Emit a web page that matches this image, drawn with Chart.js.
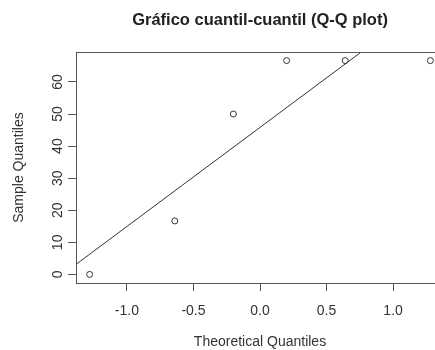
<!DOCTYPE html>
<html>
<head>
<meta charset="utf-8">
<script src="https://cdn.jsdelivr.net/npm/chart.js@4"></script>
<style>
  html, body { margin: 0; padding: 0; background: #fff; overflow: hidden; }
  #wrap { width: 480px; height: 350px; }
</style>
</head>
<body>
<div id="wrap"><canvas id="qqChart" width="480" height="350"></canvas></div>
<script>
// Normal Q-Q data: theoretical quantiles vs sorted sample values
const theoretical = [-1.28, -0.64, -0.20, 0.20, 0.64, 1.28];
const sample = [0, 16.67, 50, 66.67, 66.67, 66.67];
const xTicks = [-1.0, -0.5, 0.0, 0.5, 1.0];
const yTicks = [0, 10, 20, 30, 40, 50, 60];

const titleText = "Gráfico cuantil-cuantil (Q-Q plot)";
const xTitle = "Theoretical Quantiles";
const yTitle = "Sample Quantiles";

// axis limits: data range padded by 4% on each side
function padRange(v) {
  const lo = Math.min(...v), hi = Math.max(...v), d = (hi - lo) * 0.04;
  return [lo - d, hi + d];
}
const [xMin, xMax] = padRange(theoretical);
const [yMin, yMax] = padRange(sample);

// reference line through the first and third quartiles
function quantile(v, p) {
  const s = [...v].sort((a, b) => a - b);
  const h = (s.length - 1) * p, i = Math.floor(h);
  return s[i] + (h - i) * ((s[i + 1] ?? s[i]) - s[i]);
}
const zq = 0.6745; // standard normal 75% point
const q1 = quantile(sample, 0.25), q3 = quantile(sample, 0.75);
const slope = (q3 - q1) / (2 * zq);
const intercept = q1 + slope * zq;
const qqLine = [xMin, xMax].map(x => ({ x, y: intercept + slope * x }));

const font = '"Liberation Sans", Arial, sans-serif';

// frame, tick labels and titles
const frameAndText = {
  id: "frameAndText",
  afterDraw(chart) {
    const { ctx, chartArea: a, scales: { x, y } } = chart;
    ctx.save();
    ctx.strokeStyle = "#555";
    ctx.lineWidth = 1;
    ctx.strokeRect(Math.round(a.left) + 0.5, Math.round(a.top) + 0.5,
      Math.round(a.right - a.left), Math.round(a.bottom - a.top));

    ctx.fillStyle = "#222";
    ctx.textAlign = "center";
    ctx.textBaseline = "alphabetic";
    ctx.font = "bold 16.5px " + font;
    ctx.fillText(titleText, (a.left + a.right) / 2, 25);

    ctx.fillStyle = "#333";
    ctx.font = "14px " + font;
    xTicks.forEach(t => ctx.fillText(t.toFixed(1), x.getPixelForValue(t), 315));
    ctx.fillText(xTitle, (a.left + a.right) / 2, 346);

    yTicks.forEach(t => {
      ctx.save();
      ctx.translate(62, y.getPixelForValue(t));
      ctx.rotate(-Math.PI / 2);
      ctx.fillText(String(t), 0, 0);
      ctx.restore();
    });
    ctx.save();
    ctx.translate(23, (a.top + a.bottom) / 2);
    ctx.rotate(-Math.PI / 2);
    ctx.fillText(yTitle, 0, 0);
    ctx.restore();
    ctx.restore();
  }
};

new Chart(document.getElementById("qqChart"), {
  type: "scatter",
  data: {
    datasets: [
      {
        data: theoretical.map((t, i) => ({ x: t, y: sample[i] })),
        pointRadius: 3,
        pointBackgroundColor: "rgba(0,0,0,0)",
        pointBorderColor: "#333",
        pointBorderWidth: 1,
        showLine: false
      },
      {
        data: qqLine,
        showLine: true,
        borderColor: "#333",
        borderWidth: 1,
        pointRadius: 0
      }
    ]
  },
  options: {
    responsive: false,
    animation: false,
    layout: { padding: { left: 0, top: 52, right: 36, bottom: 0 } },
    plugins: { legend: { display: false }, tooltip: { enabled: false } },
    scales: {
      x: {
        type: "linear",
        min: xMin,
        max: xMax,
        afterBuildTicks: s => { s.ticks = xTicks.map(v => ({ value: v })); },
        afterFit: s => { s.height = 67; },
        ticks: { display: false },
        border: { display: false },
        grid: { drawOnChartArea: false, drawTicks: true, tickLength: 8, color: "#555" }
      },
      y: {
        type: "linear",
        min: yMin,
        max: yMax,
        afterBuildTicks: s => { s.ticks = yTicks.map(v => ({ value: v })); },
        afterFit: s => { s.width = 76; },
        ticks: { display: false },
        border: { display: false },
        grid: { drawOnChartArea: false, drawTicks: true, tickLength: 8, color: "#555" }
      }
    }
  },
  plugins: [frameAndText]
});
</script>
</body>
</html>
